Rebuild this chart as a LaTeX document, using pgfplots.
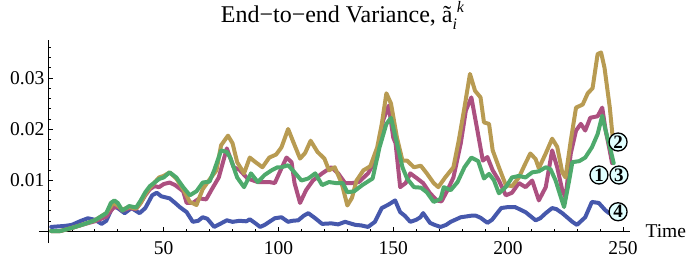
\documentclass[border=0pt]{standalone}
\usepackage{fontspec}
\setmainfont{Liberation Serif}
\usepackage{pgfplots}
\pgfplotsset{compat=1.18}
\definecolor{blueS}{RGB}{70,88,172}
\definecolor{magS}{RGB}{172,80,128}
\definecolor{goldS}{RGB}{184,155,82}
\definecolor{greenS}{RGB}{78,170,108}
\definecolor{lblfill}{RGB}{225,255,255}
\begin{document}
\begin{tikzpicture}
\useasboundingbox (-39bp,-21bp) rectangle (652bp,243bp);
\begin{axis}[
  scale only axis, width=591bp, height=203bp,
  axis lines=middle, axis line style={-, line width=0.8bp},
  xmin=-4.3, xmax=253.1, ymin=-0.00235, ymax=0.03745,
  xtick={50,100,150,200,250},
  minor xtick={10,20,30,40,60,70,80,90,110,120,130,140,160,170,180,190,210,220,230,240},
  ytick={0.01,0.02,0.03}, yticklabels={0.01,0.02,0.03},
  xticklabels={50,100,150,200,250},
  minor ytick={0.002,0.004,0.006,0.008,0.012,0.014,0.016,0.018,0.022,0.024,0.026,0.028,0.032,0.034,0.036},
  scaled y ticks=false,
  tick align=inside,
  major tick length=4.5bp, minor tick length=2.5bp,
  tick style={black, line width=0.6bp},
  ticklabel style={font=\fontsize{19.5bp}{20bp}\selectfont},
  xticklabel style={yshift=-7bp},
  yticklabel style={xshift=-1bp},
  xlabel={Time},
  xlabel style={at={(axis cs:253.1,0)}, anchor=west, xshift=12bp, font=\fontsize{19.5bp}{20bp}\selectfont},
  title={End−to−end Variance, ã\raisebox{-0.3em}{\fontsize{16bp}{16bp}\selectfont\itshape i}\raisebox{0.38em}{\fontsize{16bp}{16bp}\selectfont\itshape k}},
  title style={at={(rel axis cs:0.5,1)}, anchor=base, xshift=8bp, yshift=12bp, font=\fontsize{24bp}{26bp}\selectfont},
  clip=false,
  every axis plot/.append style={line width=4bp, line join=round, line cap=round},
]
% blue
\addplot[blueS] coordinates {
(1,0.0008) (4,0.0009) (7,0.001) (10,0.0012) (14,0.002) (17,0.0025) (20,0.0022) (23,0.0014) (25,0.002) (28,0.005) (30,0.0045) (33,0.0035) (36,0.0045) (39.5,0.0035) (42,0.0045) (45,0.007) (47,0.0075) (49,0.0068) (52.6,0.0064) (55,0.0055) (57,0.0047) (60,0.0037) (62.7,0.0018) (65,0.002) (67,0.0027) (69,0.0024) (72,0.0008) (75,0.0015) (77.5,0.0021) (80,0.0018) (83,0.002) (86,0.0019) (87.5,0.0023) (90,0.0015) (92,0.0008) (94,0.0012) (96,0.0018) (98.4,0.0025) (101.3,0.0027) (104.2,0.0018) (106,0.002) (108.6,0.0021) (111,0.003) (113,0.0035) (116,0.0025) (119,0.0014) (123,0.0015) (126,0.0013) (129,0.0018) (133.5,0.0012) (136,0.0011) (139,0.0008) (142,0.0018) (145,0.0045) (148,0.0052) (150.8,0.006) (153,0.0037) (155,0.003) (157.4,0.0018) (160,0.0022) (161.8,0.0027) (163,0.0035) (166,0.0016) (168,0.0012) (170.6,0.0008) (173,0.0012) (175,0.0018) (179.4,0.0027) (184,0.003) (186,0.003) (188,0.0026) (191,0.0016) (193,0.0022) (197,0.0045) (200,0.0047) (203,0.0047) (207.6,0.0037) (212,0.0021) (214,0.0025) (216.4,0.0035) (219.2,0.0045) (221,0.0043) (223.6,0.0035) (228,0.0018) (230,0.0012) (233.6,0.0027) (236.5,0.0057) (239.5,0.0055) (242.3,0.0041) (244,0.0035)
};
% magenta
\addplot[magS] coordinates {
(1,0) (5,0) (10,0.0006) (15,0.0013) (20,0.0019) (25,0.0028) (28,0.0045) (30,0.0048) (32,0.004) (35,0.0045) (38,0.0043) (40,0.0055) (42,0.007) (44,0.0082) (46,0.0088) (48,0.0086) (50,0.0092) (52.6,0.0095) (55,0.009) (58.5,0.0078) (60,0.0055) (62.7,0.0055) (65.5,0.0064) (68.5,0.0062) (71,0.0082) (74,0.0105) (77.5,0.0162) (80.5,0.0125) (83,0.012) (86.5,0.0103) (91,0.0096) (96,0.0096) (98.4,0.0094) (101.3,0.0123) (103.5,0.0144) (105.7,0.0135) (107,0.0094) (109.4,0.0055) (112,0.008) (115,0.0099) (119,0.0113) (123,0.0125) (126,0.0113) (129,0.0094) (132,0.0094) (135,0.0096) (139,0.0113) (143,0.0144) (145.5,0.0216) (148,0.0246) (150,0.0183) (151,0.0172) (153,0.0086) (155.4,0.0094) (157.4,0.0113) (160.4,0.0103) (163,0.0094) (166,0.0074) (169,0.006) (171,0.0058) (173.6,0.008) (176.2,0.0105) (179.4,0.0172) (181.6,0.0236) (184,0.0262) (186.4,0.0203) (189,0.0138) (191,0.0145) (193.3,0.0119) (196,0.0099) (199,0.007) (201.7,0.0075) (204.7,0.0094) (207.6,0.0086) (210.5,0.0099) (213.4,0.006) (216.4,0.0086) (219.2,0.0158) (221.4,0.0125) (223.6,0.008) (225,0.0066) (227.3,0.0152) (229.6,0.0197) (231.7,0.021) (233.6,0.0197) (235.8,0.0222) (239,0.0225) (241,0.0242) (242.5,0.0197) (244,0.0164) (245.3,0.0133)
};
% gold
\addplot[goldS] coordinates {
(1,0) (5,0) (10,0.0006) (15,0.0013) (20,0.0021) (25,0.0035) (28,0.0055) (30,0.005) (32,0.0042) (35,0.0047) (38,0.0044) (40,0.0055) (42,0.0072) (44,0.0085) (46,0.0095) (48,0.0105) (50,0.0108) (52.6,0.0115) (55.5,0.0103) (58.5,0.0082) (61.4,0.0057) (64.3,0.0051) (67,0.0082) (70,0.0101) (73,0.0119) (75,0.0168) (78,0.0187) (80,0.0172) (82,0.0135) (85,0.0113) (87.5,0.0144) (90,0.0135) (93,0.0125) (96,0.0144) (99,0.015) (101.3,0.0164) (104.2,0.02) (106.5,0.0174) (109.4,0.0142) (111.6,0.0153) (114,0.0177) (117,0.0155) (120,0.0142) (122,0.0119) (124.5,0.0125) (127.5,0.0094) (130,0.005) (132,0.0065) (134,0.0099) (137,0.0119) (140,0.0127) (143,0.0164) (145,0.021) (147,0.027) (149,0.025) (151.6,0.0183) (154,0.0138) (156,0.0138) (159,0.0125) (162,0.0128) (164.6,0.0113) (167.6,0.0094) (169.6,0.0086) (172.6,0.0105) (176.2,0.0125) (178.5,0.0177) (181,0.0242) (183.4,0.0308) (185.6,0.0275) (188,0.0262) (189.5,0.0213) (191.7,0.021) (193.3,0.0158) (196,0.0125) (199,0.009) (201.7,0.0088) (204.7,0.0105) (207.6,0.0133) (209.7,0.0152) (212,0.0141) (213.4,0.0123) (216.4,0.0152) (219.2,0.0181) (221.4,0.0165) (223.6,0.0115) (225,0.0105) (227.3,0.0177) (229.6,0.0242) (232.5,0.0248) (234.7,0.027) (236.8,0.028) (239,0.0347) (240.5,0.035) (242,0.032) (244.3,0.0242) (245.7,0.0177)
};
% green
\addplot[greenS] coordinates {
(1,0) (5,0) (10,0.0006) (15,0.0013) (20,0.0021) (25,0.0035) (27,0.0055) (28.5,0.006) (30,0.0055) (32,0.004) (35,0.0049) (38,0.0046) (40,0.006) (42,0.0076) (44,0.0088) (46,0.0095) (48,0.0102) (50,0.0105) (52.6,0.0115) (55.5,0.0105) (58.5,0.0086) (61.4,0.007) (64.3,0.0078) (67,0.0095) (70,0.0097) (72,0.0119) (75,0.0158) (77.5,0.0155) (79,0.0144) (82,0.0105) (85,0.0086) (88,0.0113) (91,0.0096) (94,0.011) (97,0.0119) (99.6,0.0125) (101.3,0.0125) (104.2,0.0129) (107,0.0115) (110,0.0099) (113,0.0103) (116,0.0113) (119,0.009) (122,0.0096) (125,0.0094) (128,0.0094) (130,0.0076) (133,0.0078) (136.5,0.009) (141,0.0103) (144,0.0164) (147,0.021) (149,0.0222) (151.6,0.0172) (154,0.0125) (156,0.0103) (159,0.0086) (162,0.0085) (164.6,0.0076) (167.6,0.0057) (170.6,0.0063) (172,0.0086) (175,0.008) (178,0.0096) (181,0.0125) (184,0.0144) (187,0.0137) (189.5,0.0103) (191.7,0.0112) (193.8,0.01) (196,0.0074) (199,0.0086) (201.7,0.0105) (204.7,0.0108) (207.6,0.0105) (210.5,0.0115) (213.4,0.0117) (216.4,0.0125) (218.5,0.0121) (220.7,0.0099) (223,0.0066) (224.4,0.0047) (226.6,0.0099) (228,0.0135) (231,0.0137) (233.6,0.0144) (236.5,0.0164) (239,0.019) (241,0.0226) (242.5,0.0197) (244.7,0.0158) (246,0.0133)
};
\begin{scope}[every node/.style={circle, draw=black, line width=1.3bp, fill=lblfill, minimum size=18bp, inner sep=0pt, font=\fontsize{19bp}{19bp}\selectfont\bfseries}]
\node at (axis cs:247.9,0.01745) {2};
\node at (axis cs:239.6,0.01098) {1};
\node at (axis cs:248.3,0.01098) {3};
\node at (axis cs:247.9,0.00378) {4};
\end{scope}
\end{axis}
\end{tikzpicture}
\end{document}
